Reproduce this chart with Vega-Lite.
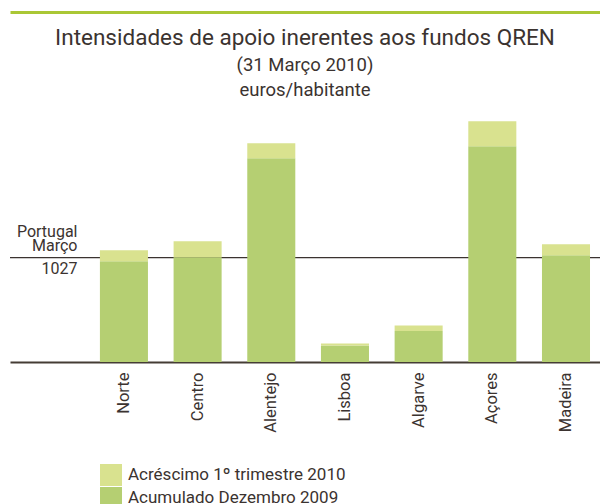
{
  "$schema": "https://vega.github.io/schema/vega-lite/v6.json",
  "width": 590,
  "height": 254,
  "autosize": "none",
  "padding": {"left": 10, "top": 108, "right": 0, "bottom": 142},
  "background": "white",
  "title": {
    "text": "Intensidades de apoio inerentes aos fundos QREN",
    "subtitle": ["(31 Março 2010)", "euros/habitante"],
    "anchor": "middle",
    "frame": "group",
    "orient": "top",
    "offset": -87,
    "fontSize": 22.5,
    "fontWeight": "normal",
    "color": "#3b3330",
    "subtitleFontSize": 18.5,
    "subtitleColor": "#3b3330",
    "subtitlePadding": 6.5,
    "subtitleLineHeight": 25
  },
  "config": {
    "font": "Roboto",
    "view": {"stroke": null},
    "axis": {"labelColor": "#3b3330", "grid": false}
  },
  "datasets": {
    "bars": [
      {"regiao": "Norte", "serie": "Acumulado Dezembro 2009", "valor": 991},
      {"regiao": "Norte", "serie": "Acréscimo 1º trimestre 2010", "valor": 108},
      {"regiao": "Centro", "serie": "Acumulado Dezembro 2009", "valor": 1030},
      {"regiao": "Centro", "serie": "Acréscimo 1º trimestre 2010", "valor": 158},
      {"regiao": "Alentejo", "serie": "Acumulado Dezembro 2009", "valor": 2006},
      {"regiao": "Alentejo", "serie": "Acréscimo 1º trimestre 2010", "valor": 148},
      {"regiao": "Lisboa", "serie": "Acumulado Dezembro 2009", "valor": 163},
      {"regiao": "Lisboa", "serie": "Acréscimo 1º trimestre 2010", "valor": 19},
      {"regiao": "Algarve", "serie": "Acumulado Dezembro 2009", "valor": 304},
      {"regiao": "Algarve", "serie": "Acréscimo 1º trimestre 2010", "valor": 56},
      {"regiao": "Açores", "serie": "Acumulado Dezembro 2009", "valor": 2124},
      {"regiao": "Açores", "serie": "Acréscimo 1º trimestre 2010", "valor": 246},
      {"regiao": "Madeira", "serie": "Acumulado Dezembro 2009", "valor": 1050},
      {"regiao": "Madeira", "serie": "Acréscimo 1º trimestre 2010", "valor": 108}
    ],
    "ref": [{"valor": 1027}]
  },
  "layer": [
    {
      "data": {"name": "ref"},
      "mark": {"type": "rule", "color": "#3b3330", "strokeWidth": 1.2},
      "encoding": {
        "y": {
          "field": "valor",
          "type": "quantitative",
          "scale": {"domain": [0, 2500], "nice": false},
          "axis": {
            "orient": "left",
            "offset": -70,
            "values": [1027],
            "labelExpr": "['Portugal', 'Março']",
            "labelBaseline": "bottom",
            "labelAlign": "right",
            "labelLineHeight": 14,
            "labelFontSize": 16,
            "labelPadding": 3,
            "labelOffset": -18.5,
            "domain": false,
            "ticks": false,
            "tickSize": 0,
            "title": null
          }
        }
      }
    },
    {
      "data": {"name": "bars"},
      "mark": {"type": "bar"},
      "encoding": {
        "x": {
          "field": "regiao",
          "type": "nominal",
          "sort": ["Norte", "Centro", "Alentejo", "Lisboa", "Algarve", "Açores", "Madeira"],
          "scale": {"type": "band", "paddingInner": 0.348, "paddingOuter": 0.678, "align": 0.9},
          "axis": {
            "orient": "bottom",
            "labelAngle": -90,
            "labelAlign": "right",
            "labelBaseline": "middle",
            "labelFontSize": 16.5,
            "labelPadding": 10,
            "ticks": false,
            "tickSize": 0,
            "domainColor": "#453c35",
            "domainWidth": 2,
            "title": null
          }
        },
        "y": {
          "field": "valor",
          "type": "quantitative",
          "stack": "zero",
          "axis": {
            "orient": "left",
            "offset": -70,
            "values": [1027],
            "labelExpr": "'1027'",
            "labelBaseline": "top",
            "labelAlign": "right",
            "labelFontSize": 16,
            "labelPadding": 3,
            "labelOffset": 3,
            "domain": false,
            "ticks": false,
            "tickSize": 0,
            "title": null
          }
        },
        "color": {
          "field": "serie",
          "type": "nominal",
          "scale": {
            "domain": ["Acréscimo 1º trimestre 2010", "Acumulado Dezembro 2009"],
            "range": ["#d9e28f", "#b5cf72"]
          },
          "legend": {
            "orient": "none",
            "legendX": 90,
            "legendY": 356,
            "title": null,
            "symbolType": "square",
            "symbolSize": 484,
            "symbolStrokeWidth": 0,
            "symbolOpacity": 1,
            "labelFontSize": 17,
            "labelColor": "#3b3330",
            "labelOffset": 6,
            "labelLimit": 400,
            "rowPadding": 1,
            "padding": 0
          }
        },
        "order": {"field": "serie", "sort": "descending"}
      }
    },
    {
      "data": {"name": "bars"},
      "mark": {"type": "text", "text": "", "opacity": 0},
      "encoding": {
        "x": {
          "field": "regiao",
          "type": "nominal",
          "sort": ["Norte", "Centro", "Alentejo", "Lisboa", "Algarve", "Açores", "Madeira"],
          "scale": {"type": "band", "paddingInner": 0.348, "paddingOuter": 0.678, "align": 0.9},
          "axis": {
            "orient": "top",
            "offset": 96,
            "labels": false,
            "ticks": false,
            "tickSize": 0,
            "domainColor": "#aac735",
            "domainWidth": 3,
            "title": null
          }
        }
      }
    }
  ],
  "resolve": {"axis": {"x": "independent", "y": "independent"}}
}
